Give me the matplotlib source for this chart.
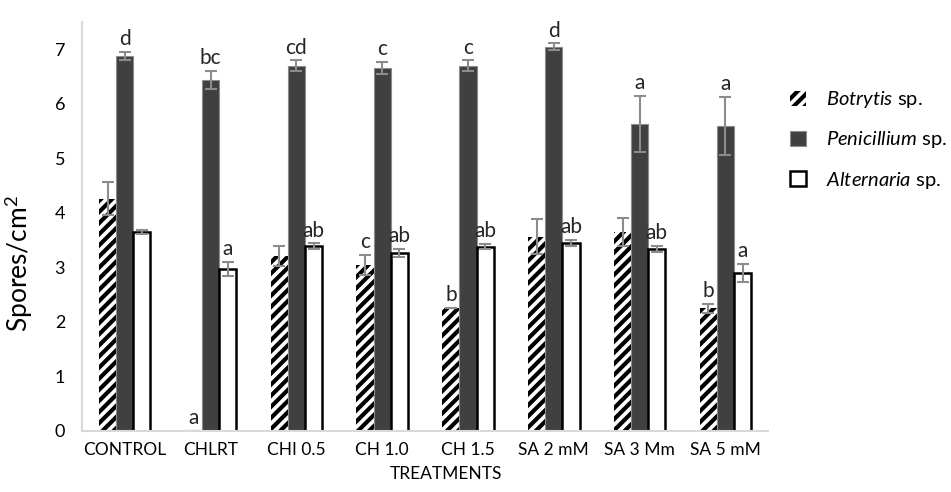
import numpy as np
import matplotlib
matplotlib.use('Agg')
import matplotlib.pyplot as plt

plt.rcParams['font.family'] = ['Lato', 'DejaVu Sans']
plt.rcParams['mathtext.fontset'] = 'custom'
plt.rcParams['mathtext.it'] = 'Lato:italic'
plt.rcParams['mathtext.rm'] = 'Lato'
plt.rcParams['hatch.linewidth'] = 3.0

# ----- datos -----
tratamientos = ['CONTROL', 'CHLRT', 'CHI 0.5', 'CH 1.0', 'CH 1.5', 'SA 2 mM', 'SA 3 Mm', 'SA 5 mM']

botrytis = [4.26, 0.0, 3.21, 3.05, 2.26, 3.56, 3.65, 2.25]
botrytis_err = [0.30, 0.0, 0.19, 0.18, 0.0, 0.32, 0.26, 0.08]
botrytis_let = ['', 'a', '', 'c', 'b', '', '', 'b']

penicillium = [6.88, 6.44, 6.70, 6.66, 6.70, 7.05, 5.63, 5.60]
penicillium_err = [0.07, 0.16, 0.10, 0.11, 0.10, 0.06, 0.52, 0.53]
penicillium_let = ['d', 'bc', 'cd', 'c', 'c', 'd', 'a', 'a']

alternaria = [3.65, 2.97, 3.39, 3.27, 3.38, 3.45, 3.34, 2.90]
alternaria_err = [0.04, 0.13, 0.05, 0.07, 0.05, 0.05, 0.05, 0.16]
alternaria_let = ['', 'a', 'ab', 'ab', 'ab', 'ab', 'ab', 'a']

# ----- grafico -----
fig = plt.figure(figsize=(9.51, 4.92), dpi=100)
ax = fig.add_axes([0.086, 0.124, 0.722, 0.831])

x = np.arange(len(tratamientos))
w = 0.2
err_kw = dict(ecolor='#8c8c8c', elinewidth=1.5, capsize=4, capthick=1.5)

b1 = ax.bar(x - w, botrytis, w, color='white', edgecolor='black', linewidth=0,
            hatch='///', yerr=botrytis_err, error_kw=err_kw, label=r'$\it{Botrytis}$ sp.')
b2 = ax.bar(x, penicillium, w, color='#404040', edgecolor='#8c8c8c', linewidth=0.8,
            yerr=penicillium_err, error_kw=err_kw, label=r'$\it{Penicillium}$ sp.')
b3 = ax.bar(x + w, alternaria, w, color='white', edgecolor='black', linewidth=1.8,
            yerr=alternaria_err, error_kw=err_kw, label=r'$\it{Alternaria}$ sp.')

# letras de significancia
for off, vals, errs, lets in [(-w, botrytis, botrytis_err, botrytis_let),
                               (0, penicillium, penicillium_err, penicillium_let),
                               (w, alternaria, alternaria_err, alternaria_let)]:
    for i in range(len(x)):
        if lets[i]:
            ax.text(x[i] + off, vals[i] + errs[i] + 0.05, lets[i], ha='center', va='bottom',
                    fontsize=15, color='#262626')

ax.set_xlim(-0.5, len(x) - 0.5)
ax.set_ylim(0, 7.5)
ax.set_yticks(range(0, 8))
ax.set_xticks(x)
ax.set_xticklabels(tratamientos, fontsize=12.5)
ax.tick_params(axis='y', labelsize=13, length=0, pad=12)
ax.tick_params(axis='x', length=0, pad=8)

for s in ['top', 'right']:
    ax.spines[s].set_visible(False)
ax.spines['left'].set_color('#d9d9d9')
ax.spines['bottom'].set_color('#d9d9d9')
ax.spines['left'].set_linewidth(1.5)
ax.spines['bottom'].set_linewidth(1.5)

ax.set_ylabel('Spores/cm$^2$', fontsize=19)
ax.yaxis.set_label_coords(-0.068, 0.41)
ax.set_xlabel('TREATMENTS', fontsize=12.5)
ax.xaxis.set_label_coords(0.53, -0.085)

ax.legend(handles=[b1, b2, b3], loc='upper left', bbox_to_anchor=(1.005, 0.88), frameon=False,
          fontsize=14.5, handlelength=0.8, handleheight=0.8, labelspacing=0.95, handletextpad=1.0)

fig.savefig('out.png', dpi=100)
